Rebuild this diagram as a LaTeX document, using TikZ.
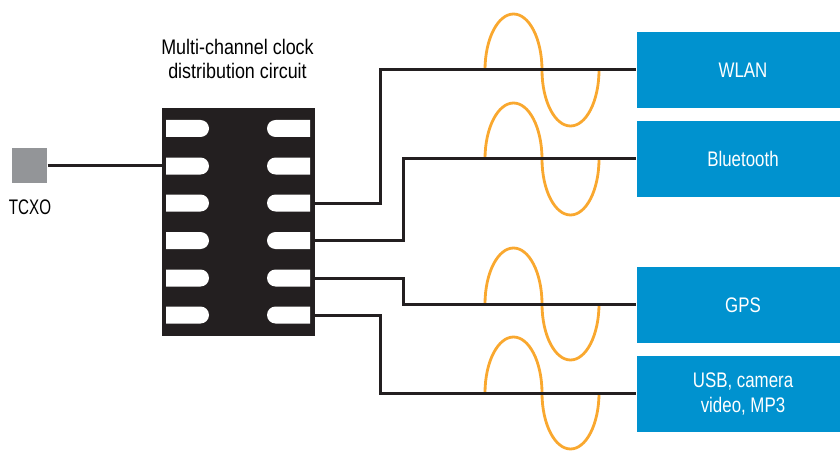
\documentclass[tikz,border=0pt]{standalone}
\usepackage{fontspec, tkz-euclide}
\usetikzlibrary{shapes.misc}
\setmainfont[FakeStretch=.85]{Liberation Sans}
\newfontfamily\boxfont[FakeStretch=.8]{Liberation Sans}
\newfontfamily\tcxofont[FakeStretch=.72]{Liberation Sans}
\definecolor{chipblack}{HTML}{231F20}
\definecolor{boxblue}{HTML}{0092CF}
\definecolor{tcxogray}{HTML}{939598}
\definecolor{waveorange}{HTML}{F9A82F}
\tikzset{
  lbl/.style={font=\fontsize{6}{7}\selectfont, align=center, inner sep=0pt},
  radiobox/.style={lbl, font=\fontsize{6}{7}\boxfont, fill=boxblue, text=white, minimum width=2.12cm, minimum height=.76cm},
  pinleft/.style={shape=rounded rectangle, rounded rectangle west arc=none, fill=white,
    minimum width=.43cm, minimum height=.17cm, inner sep=0pt},
  pinright/.style={shape=rounded rectangle, rounded rectangle east arc=none, fill=white,
    minimum width=.43cm, minimum height=.17cm, inner sep=0pt},
  wire/.style={chipblack, line width=.03cm},
  wave/.style={waveorange, line width=.028cm}
}
\begin{document}
\begin{tikzpicture}
\useasboundingbox (0,0) rectangle (8.4,4.5);
\tkzDefPoints{0.295/2.845/Tcxo, 0.30/2.43/TcxoText, 2.375/3.91/ChipText}
\tkzDefPoints{7.43/3.80/Wlan, 7.43/2.91/Blue, 7.43/1.45/Gps, 7.43/0.56/Usb}
\tkzDefPoints{3.80/3.80/BendA, 4.03/2.91/BendB, 4.03/1.46/BendC, 3.80/0.57/BendD}
\tkzDefPoints{4.85/3.80/WaveA, 4.85/2.91/WaveB, 4.85/1.46/WaveC, 4.85/0.57/WaveD}
% chip
\node[fill=chipblack, minimum width=1.525cm, minimum height=2.275cm, inner sep=0pt, anchor=south west] (chip) at (1.615,1.135) {};
\foreach \i/\y in {1/3.215, 2/2.84, 3/2.47, 4/2.095, 5/1.72, 6/1.35}{
  \node[pinleft] (pinl\i) at (1.875,\y) {};
  \node[pinright] (pinr\i) at (2.885,\y) {};
}
\node[lbl] (chiplabel) at (ChipText) {Multi-channel clock\\distribution circuit};
% TCXO
\node[fill=tcxogray, minimum size=.35cm, inner sep=0pt] (tcxo) at (Tcxo) {};
\node[lbl, font=\fontsize{6}{7}\tcxofont] (tcxolabel) at (TcxoText) {TCXO};
% boxes
\node[radiobox] (wlan) at (Wlan) {WLAN};
\node[radiobox] (bluetooth) at (Blue) {Bluetooth};
\node[radiobox] (gps) at (Gps) {GPS};
\node[radiobox] (usb) at (Usb) {USB, camera\\video, MP3};
% waves
\draw[wave] (WaveA) arc[start angle=180, end angle=0, x radius=.285, y radius=.56] arc[start angle=180, end angle=360, x radius=.285, y radius=.56];
\draw[wave] (WaveB) arc[start angle=180, end angle=0, x radius=.285, y radius=.56] arc[start angle=180, end angle=360, x radius=.285, y radius=.56];
\draw[wave] (WaveC) arc[start angle=180, end angle=0, x radius=.285, y radius=.56] arc[start angle=180, end angle=360, x radius=.285, y radius=.56];
\draw[wave] (WaveD) arc[start angle=180, end angle=0, x radius=.285, y radius=.56] arc[start angle=180, end angle=360, x radius=.285, y radius=.56];
% wires
\draw[wire] (tcxo.east) -- (chip.west |- tcxo.east);
\draw[wire] (chip.east |- pinr3) -| (BendA) -- (wlan.west |- BendA);
\draw[wire] (chip.east |- pinr4) -| (BendB) -- (bluetooth.west |- BendB);
\draw[wire] (chip.east |- pinr5) -| (BendC) -- (gps.west |- BendC);
\draw[wire] (chip.east |- pinr6) -| (BendD) -- (usb.west |- BendD);
\end{tikzpicture}
\end{document}
